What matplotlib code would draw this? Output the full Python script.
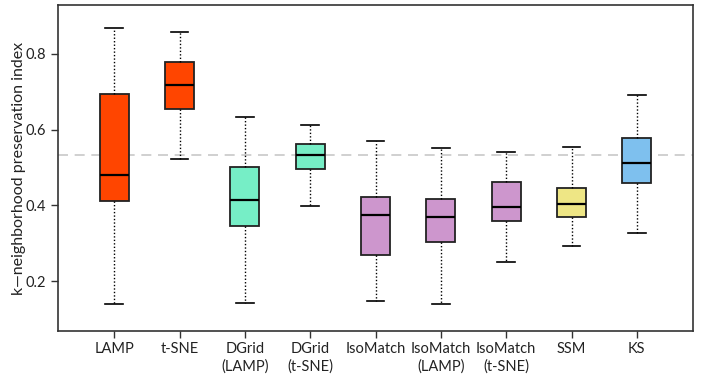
import matplotlib.pyplot as plt

plt.rcParams["font.family"] = ["Lato", "DejaVu Sans"]

methods = ["LAMP", "t-SNE", "DGrid\n(LAMP)", "DGrid\n(t-SNE)", "IsoMatch",
           "IsoMatch\n(LAMP)", "IsoMatch\n(t-SNE)", "SSM", "KS"]
whisker_low = [0.139, 0.522, 0.142, 0.399, 0.147, 0.139, 0.249, 0.293, 0.326]
q1 = [0.411, 0.654, 0.345, 0.495, 0.269, 0.303, 0.358, 0.370, 0.460]
median = [0.480, 0.718, 0.414, 0.533, 0.375, 0.370, 0.396, 0.403, 0.513]
q3 = [0.694, 0.779, 0.501, 0.563, 0.421, 0.417, 0.462, 0.447, 0.577]
whisker_high = [0.868, 0.858, 0.633, 0.612, 0.570, 0.550, 0.540, 0.554, 0.692]
colors = ["#FF4500", "#FF4500", "#76EEC6", "#76EEC6", "#CD96CD",
          "#CD96CD", "#CD96CD", "#EEE685", "#7EC0EE"]
reference = 0.533

stats = []
for i, name in enumerate(methods):
    stats.append({
        "label": name,
        "whislo": whisker_low[i],
        "q1": q1[i],
        "med": median[i],
        "q3": q3[i],
        "whishi": whisker_high[i],
        "fliers": [],
    })

fig = plt.figure(figsize=(7.06, 3.75), dpi=100)
ax = fig.add_axes([0.0822, 0.1173, 0.8994, 0.8694])

ax.axhline(reference, color="#c8c8c8", linestyle=(0, (6, 4)), linewidth=1.2, zorder=0)

bp = ax.bxp(stats, positions=range(1, len(methods) + 1), widths=0.44,
            patch_artist=True, showfliers=False, capwidths=0.27,
            boxprops=dict(edgecolor="#222222", linewidth=1.3),
            medianprops=dict(color="black", linewidth=1.6),
            whiskerprops=dict(color="black", linestyle=(0, (1, 1.5)), linewidth=1.0),
            capprops=dict(color="black", linewidth=1.2))
for patch, c in zip(bp["boxes"], colors):
    patch.set_facecolor(c)

ax.set_xlim(0.14, 9.86)
ax.set_ylim(0.068, 0.929)
ax.set_yticks([0.2, 0.4, 0.6, 0.8])
ax.set_yticklabels(["0.2", "0.4", "0.6", "0.8"])
ax.set_ylabel("k\u2014neighborhood preservation index", fontsize=11.5,
              color="#222222", labelpad=0)
for lbl in ax.get_xticklabels():
    lbl.set_linespacing(1.3)

for side in ["left", "right", "top", "bottom"]:
    ax.spines[side].set_color("#333333")
    ax.spines[side].set_linewidth(1.2)
ax.tick_params(axis="both", direction="out", length=5, width=1, color="#333333",
               labelsize=10.5, labelcolor="#222222")
ax.tick_params(axis="x", pad=3)

fig.savefig("out.png", dpi=100)
